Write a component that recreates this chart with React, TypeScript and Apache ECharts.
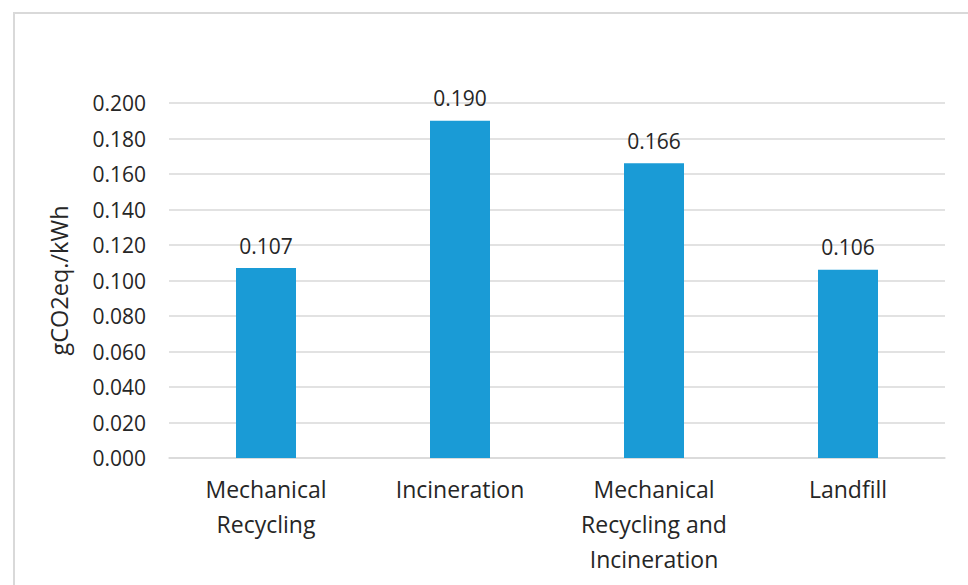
import React, { useEffect, useRef } from "react";
import * as echarts from "echarts";

const categories = [
  "Mechanical\nRecycling",
  "Incineration",
  "Mechanical\nRecycling and\nIncineration",
  "Landfill",
];
const values = [0.107, 0.19, 0.166, 0.106];
const yAxisName = "gCO2eq./kWh";
const yMin = 0;
const yMax = 0.2;
const yStep = 0.02;

const FONT = "'Open Sans', 'Noto Sans', sans-serif";
const TEXT = "#262626";
const GRID = "#d9d9d9";
const BAR = "#1a9bd6";

export default function App() {
  const ref = useRef<HTMLDivElement>(null);
  useEffect(() => {
    if (!ref.current) return;
    const chart = echarts.init(ref.current, undefined, { renderer: "svg" });
    chart.setOption({
      animation: false,
      backgroundColor: "#ffffff",
      textStyle: { fontFamily: FONT, color: TEXT },
      grid: { left: 169, right: 23, top: 103, bottom: 127, containLabel: false },
      graphic: [
        {
          type: "rect",
          shape: { x: 14, y: 13, width: 980, height: 600 },
          style: { fill: "none", stroke: GRID, lineWidth: 2 },
          silent: true,
        },
      ],
      xAxis: {
        type: "category",
        data: categories,
        axisLine: { show: true, lineStyle: { color: GRID, width: 1.5 } },
        axisTick: { show: false },
        axisLabel: {
          color: TEXT,
          fontFamily: FONT,
          fontSize: 23,
          lineHeight: 35,
          margin: 13,
          interval: 0,
        },
      },
      yAxis: {
        type: "value",
        min: yMin,
        max: yMax,
        interval: yStep,
        name: yAxisName,
        nameLocation: "middle",
        nameGap: 98,
        nameRotate: 90,
        nameTextStyle: { color: TEXT, fontFamily: FONT, fontSize: 23.5 },
        axisLine: { show: false },
        axisTick: { show: false },
        axisLabel: {
          color: TEXT,
          fontFamily: FONT,
          fontSize: 21,
          margin: 23,
          formatter: (v: number) => v.toFixed(3),
        },
        splitLine: { lineStyle: { color: GRID, width: 1.5 } },
      },
      series: [
        {
          type: "bar",
          data: values,
          barWidth: 60,
          itemStyle: { color: BAR },
          label: {
            show: true,
            position: "top",
            distance: 12,
            color: TEXT,
            fontFamily: FONT,
            fontSize: 21,
            formatter: (p: any) => Number(p.value).toFixed(3),
          },
        },
      ],
    });
    return () => chart.dispose();
  }, []);
  return (
    <div
      ref={ref}
      style={{ position: "fixed", left: 0, top: 0, width: 968, height: 585 }}
    />
  );
}
